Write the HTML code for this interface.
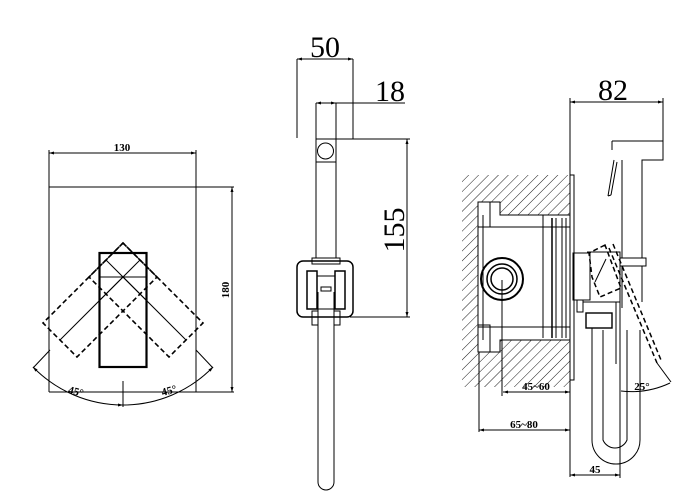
<!DOCTYPE html>
<html><head><meta charset="utf-8"><style>
html,body{margin:0;padding:0;background:#fff;}
svg{display:block;}
text{font-family:"Liberation Serif",serif;fill:#000;}
</style></head><body>
<svg width="691" height="496" viewBox="0 0 691 496" xmlns="http://www.w3.org/2000/svg">
<defs>
<marker id="a" viewBox="0 0 10 10" refX="10" refY="5" markerWidth="7" markerHeight="5" orient="auto-start-reverse"><path d="M0,2 L10,5 L0,8 z" fill="#000"/></marker>
<pattern id="h" patternUnits="userSpaceOnUse" width="7" height="7" patternTransform="rotate(45)"><line x1="0" y1="0" x2="0" y2="7" stroke="#000" stroke-width="0.9"/></pattern>
</defs>
<g fill="none" stroke="#000" stroke-width="1">
<!-- LEFT VIEW -->
<line x1="49" y1="153" x2="196" y2="153" marker-start="url(#a)" marker-end="url(#a)"/>
<line x1="49" y1="150" x2="49" y2="392"/>
<line x1="196" y1="150" x2="196" y2="392"/>
<line x1="49" y1="187" x2="234" y2="187"/>
<line x1="49" y1="392" x2="234" y2="392"/>
<line x1="232" y1="187" x2="232" y2="392" marker-start="url(#a)" marker-end="url(#a)"/>
<rect x="99.5" y="253" width="47" height="114" stroke-width="2.2"/>
<line x1="99" y1="277" x2="147" y2="277"/>
<g stroke-dasharray="5,3" stroke-width="1.6">
<polygon points="123,243 203,323 169,357 89,277"/>
<polygon points="123,243 43,323 77,357 157,277"/>
</g>
<line x1="60" y1="340" x2="140" y2="260"/>
<line x1="186" y1="340" x2="106" y2="260"/>
<line x1="100" y1="300" x2="123" y2="277" /><line x1="146" y1="300" x2="123" y2="277"/>
<path d="M33,367 A125.5,125.5 0 0 0 123,405" marker-start="url(#a)" marker-end="url(#a)"/>
<path d="M213,367 A125.5,125.5 0 0 1 123,405" marker-start="url(#a)"/>
<line x1="33" y1="368" x2="50" y2="350"/>
<line x1="213" y1="368" x2="196" y2="350"/>
<line x1="123" y1="381" x2="123" y2="407"/>
<!-- MIDDLE VIEW -->
<line x1="297" y1="59" x2="353" y2="59" marker-start="url(#a)" marker-end="url(#a)"/>
<line x1="297" y1="59" x2="297" y2="138"/>
<line x1="353" y1="59" x2="353" y2="139"/>
<line x1="316" y1="103" x2="336" y2="103" marker-start="url(#a)" marker-end="url(#a)"/>
<line x1="336" y1="103" x2="405" y2="103"/>
<line x1="316" y1="103" x2="316" y2="258"/>
<line x1="336" y1="103" x2="336" y2="258"/>
<line x1="316" y1="139" x2="410" y2="139"/>
<line x1="316" y1="162" x2="336" y2="162"/>
<circle cx="325.5" cy="151" r="8"/>
<line x1="407" y1="139" x2="407" y2="317" marker-start="url(#a)" marker-end="url(#a)"/>
<line x1="350" y1="317" x2="410" y2="317"/>
<rect x="297" y="261" width="56" height="56" rx="6" stroke-width="1.5"/>
<rect x="312" y="258" width="28" height="6"/>
<rect x="307" y="271" width="10" height="38" stroke-width="1.5"/>
<rect x="335" y="271" width="10" height="38" stroke-width="1.5"/>
<rect x="317" y="276" width="18" height="33"/>
<rect x="321" y="287" width="10" height="4"/>
<line x1="318" y1="292" x2="318" y2="482"/><line x1="334" y1="292" x2="334" y2="482"/>
<path d="M318,482 A8,8 0 0 0 334,482"/>
<rect x="312" y="311" width="6" height="14"/><rect x="334" y="311" width="6" height="14"/>
<!-- RIGHT VIEW -->
<line x1="570" y1="102" x2="663" y2="102" marker-start="url(#a)" marker-end="url(#a)"/>
<line x1="570" y1="98" x2="570" y2="477"/>
<line x1="663" y1="98" x2="663" y2="160"/>
<path d="M612,141 L663,141 L663,160 L642,160 L642,258"/>
<line x1="622" y1="160" x2="622" y2="258"/>
<path d="M612,141 L612,150 M614,160 L608,196 M617,162 L611,195 M608,196 L611,195"/>
<path d="M462,175 L570,175 L570,387 L462,387 Z" fill="url(#h)" stroke="none"/>
<path d="M478,202 L500,202 L500,215 L570,215 L570,340 L500,340 L500,352 L478,352 Z" fill="#fff" stroke="#000"/>
<line x1="478" y1="227" x2="570" y2="227"/>
<line x1="478" y1="327" x2="570" y2="327"/>
<line x1="543" y1="215" x2="543" y2="338"/>
<line x1="552" y1="218" x2="552" y2="338" stroke-width="1.5"/>
<line x1="556" y1="218" x2="556" y2="338"/>
<line x1="562" y1="218" x2="562" y2="338"/>
<line x1="566" y1="218" x2="566" y2="338"/>
<rect x="478" y="202" width="12" height="25"/><rect x="478" y="325" width="12" height="27"/>
<line x1="483" y1="215" x2="483" y2="340"/>
<circle cx="502" cy="279" r="21" stroke-width="2"/>
<circle cx="502" cy="279" r="15" stroke-width="1.5"/>
<circle cx="502" cy="279" r="11" stroke-width="1.5"/>
<line x1="502" y1="280" x2="502" y2="396"/>
<rect x="570" y="175" width="4" height="205"/>
<rect x="573" y="253" width="17" height="47"/>
<rect x="577" y="300" width="6" height="12"/>
<path d="M587,252 L620,252 L620,302 L587,302"/>
<path d="M620,258 L646,258 L646,266 L620,266 M622,266 L622,308 M642,266 L642,302"/>
<path d="M583,302 L616,302 L616,364"/><line x1="620" y1="302" x2="620" y2="375"/>
<g stroke-dasharray="5,3" stroke-width="1.5">
<path d="M605,245 L589,253 L592,277 L600,297 L621,288 Z"/>
<path d="M609,248 L657,363 M613,244 L661,360"/>
</g>
<path d="M606,259 L595,282" stroke-width="1"/>
<rect x="586" y="313" width="26" height="15" stroke-width="1.4"/>
<path d="M592,328 L592,440 A24,24 0 0 0 640,440 L640,330 M603,330 L603,440 A13,13 0 0 0 627,440 L627,330"/>
<path d="M621,391 A90,90 0 0 0 670,383"/>
<line x1="657" y1="363" x2="671" y2="382"/>
<line x1="503" y1="392" x2="570" y2="392" marker-start="url(#a)" marker-end="url(#a)"/>
<line x1="479" y1="352" x2="479" y2="432"/>
<line x1="479" y1="430" x2="570" y2="430" marker-start="url(#a)" marker-end="url(#a)"/>
<line x1="570" y1="475" x2="620" y2="475" marker-start="url(#a)" marker-end="url(#a)"/>
<line x1="620" y1="375" x2="620" y2="478"/>
</g>
<!-- TEXT -->
<text x="122" y="151" font-size="11" text-anchor="middle" font-weight="bold">130</text>
<text transform="translate(229,290) rotate(-90)" font-size="11" text-anchor="middle" font-weight="bold">180</text>
<text transform="translate(75,395) rotate(15)" font-size="11" text-anchor="middle" font-weight="bold">45°</text>
<text transform="translate(170,394) rotate(-15)" font-size="11" text-anchor="middle" font-weight="bold">45°</text>
<text x="325" y="57" font-size="30" text-anchor="middle">50</text>
<text x="390" y="101" font-size="30" text-anchor="middle">18</text>
<text transform="translate(404,230) rotate(-90)" font-size="30" text-anchor="middle">155</text>
<text x="613" y="100" font-size="30" text-anchor="middle">82</text>
<text x="536" y="390" font-size="11" text-anchor="middle" font-weight="bold">45~60</text>
<text x="524" y="428" font-size="11" text-anchor="middle" font-weight="bold">65~80</text>
<text x="595" y="473" font-size="11" text-anchor="middle" font-weight="bold">45</text>
<text x="642" y="390" font-size="11" text-anchor="middle" font-weight="bold">25°</text>
</svg>
</body></html>
